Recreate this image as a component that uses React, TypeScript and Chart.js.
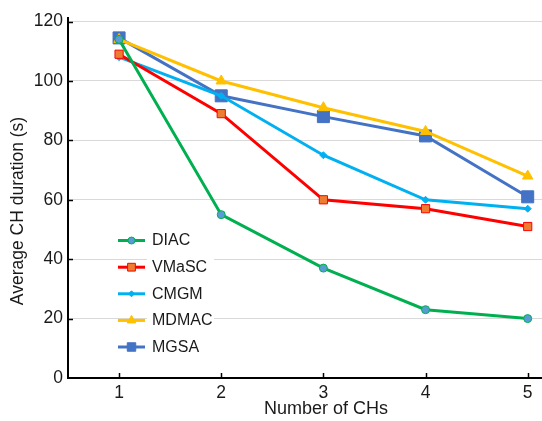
import React, { useEffect, useRef } from "react";
import { Chart, registerables } from "chart.js";

Chart.register(...registerables);

const categories = [1, 2, 3, 4, 5];
const diac = [114, 55, 37, 23, 20];
const vmasc = [109, 89, 60, 57, 51];
const cmgm = [108, 95, 75, 60, 57];
const mdmac = [114, 100, 91, 83, 68];
const mgsa = [114.5, 95, 88, 81.5, 61];
const yTicks = [0, 20, 40, 60, 80, 100, 120];

const FONT = "'Liberation Sans', Arial, sans-serif";
const TEXT = "#1a1a1a";

const toPts = (vals: number[]) => categories.map((c, i) => ({ x: c, y: vals[i] }));

function drawMarker(ctx: CanvasRenderingContext2D, style: string, r: number, x: number, y: number, fill: string, stroke: string) {
  ctx.save();
  ctx.fillStyle = fill;
  ctx.strokeStyle = stroke;
  ctx.lineWidth = 1;
  ctx.beginPath();
  if (style === "circle") {
    ctx.arc(x, y, r, 0, Math.PI * 2);
  } else if (style === "rect") {
    const s = r * Math.SQRT1_2;
    ctx.rect(x - s, y - s, 2 * s, 2 * s);
  } else if (style === "rectRot") {
    ctx.moveTo(x, y - r);
    ctx.lineTo(x + r, y);
    ctx.lineTo(x, y + r);
    ctx.lineTo(x - r, y);
    ctx.closePath();
  } else if (style === "triangle") {
    ctx.moveTo(x, y - r);
    ctx.lineTo(x + r * 0.866, y + r * 0.5);
    ctx.lineTo(x - r * 0.866, y + r * 0.5);
    ctx.closePath();
  }
  ctx.fill();
  ctx.stroke();
  ctx.restore();
}

const decorPlugin = {
  id: "decor",
  afterDraw(chart: any) {
    const { ctx, chartArea, scales } = chart;
    const xs = scales.x;
    const ys = scales.y;
    ctx.save();
    ctx.strokeStyle = "#000";
    ctx.lineWidth = 1.5;
    categories.forEach((c) => {
      const px = Math.round(xs.getPixelForValue(c)) + 0.5;
      ctx.beginPath();
      ctx.moveTo(px, chartArea.bottom);
      ctx.lineTo(px, chartArea.bottom - 5);
      ctx.stroke();
    });
    yTicks.forEach((v) => {
      if (v === 0) return;
      const py = Math.round(ys.getPixelForValue(v)) + 0.5;
      ctx.beginPath();
      ctx.moveTo(chartArea.left, py);
      ctx.lineTo(chartArea.left + 5, py);
      ctx.stroke();
    });
    ctx.fillStyle = TEXT;
    ctx.font = `18px ${FONT}`;
    ctx.textAlign = "center";
    ctx.textBaseline = "middle";
    ctx.fillText("Number of CHs", 326, 409);
    ctx.font = `17.5px ${FONT}`;
    ctx.translate(18, 211);
    ctx.rotate(-Math.PI / 2);
    ctx.fillText("Average CH duration (s)", 0, 0);
    ctx.restore();

    ctx.save();
    ctx.fillStyle = "#ffffff";
    ctx.fillRect(147, 229, 67, 130);
    const rows = [240.5, 267.2, 293.8, 320.4, 347];
    chart.data.datasets.forEach((ds: any, i: number) => {
      const y = rows[i];
      ctx.strokeStyle = ds.borderColor;
      ctx.lineWidth = 3;
      ctx.beginPath();
      ctx.moveTo(118, y);
      ctx.lineTo(145, y);
      ctx.stroke();
      drawMarker(ctx, ds.pointStyle, ds.legendRadius, 131.5, y, ds.pointBackgroundColor, ds.pointBorderColor);
      ctx.fillStyle = TEXT;
      ctx.font = `16px ${FONT}`;
      ctx.textAlign = "left";
      ctx.textBaseline = "middle";
      ctx.fillText(ds.label, 152, y + 0.5);
    });
    ctx.restore();
  },
};

export default function App() {
  const ref = useRef<HTMLCanvasElement | null>(null);
  useEffect(() => {
    if (!ref.current) return;
    const mk = (
      label: string,
      vals: number[],
      color: string,
      fill: string,
      border: string,
      style: string,
      radius: number,
      legendRadius: number
    ) => ({
      label,
      data: toPts(vals),
      borderColor: color,
      backgroundColor: color,
      borderWidth: 3,
      pointStyle: style,
      pointRadius: radius,
      pointHoverRadius: radius,
      pointBackgroundColor: fill,
      pointBorderColor: border,
      pointBorderWidth: 1,
      legendRadius,
      tension: 0,
      clip: false,
    });
    const chart = new Chart(ref.current, {
      type: "line",
      data: {
        datasets: [
          mk("DIAC", diac, "#00B050", "#5B9BD5", "#00B050", "circle", 4, 3.5),
          mk("VMaSC", vmasc, "#FF0000", "#ED7D31", "#FF0000", "rect", 5.8, 5.5),
          mk("CMGM", cmgm, "#00B0F0", "#00B0F0", "#00B0F0", "rectRot", 3.5, 3),
          mk("MDMAC", mdmac, "#FFC000", "#FFC000", "#FFC000", "triangle", 6, 5),
          mk("MGSA", mgsa, "#4472C4", "#4472C4", "#4472C4", "rect", 8.5, 6),
        ] as any,
      },
      options: {
        animation: false,
        responsive: false,
        layout: { autoPadding: false, padding: { top: 18, left: 0, right: 0, bottom: 0 } },
        plugins: { legend: { display: false }, tooltip: { enabled: false } },
        scales: {
          x: {
            type: "linear",
            min: 0.5,
            max: 5.14,
            afterFit: (s: any) => {
              s.height = 43;
            },
            grid: { display: false, drawTicks: false },
            border: { display: true, color: "#000", width: 2 },
            ticks: {
              stepSize: 1,
              includeBounds: false,
              padding: 5,
              color: TEXT,
              font: { family: FONT, size: 17.5 },
            },
          },
          y: {
            type: "linear",
            min: 0,
            max: 121.2,
            afterFit: (s: any) => {
              s.width = 68;
            },
            grid: {
              drawTicks: false,
              color: (c: any) => (c.tick && c.tick.value === 0 ? "rgba(0,0,0,0)" : "#d9d9d9"),
              lineWidth: 1,
            },
            border: { display: true, color: "#000", width: 2 },
            ticks: {
              stepSize: 20,
              includeBounds: false,
              padding: 5,
              color: TEXT,
              font: { family: FONT, size: 17.5 },
            },
          },
        },
      } as any,
      plugins: [decorPlugin],
    });
    return () => chart.destroy();
  }, []);
  return (
    <div style={{ position: "fixed", left: 0, top: 0, width: 542, height: 421, background: "#fff" }}>
      <canvas ref={ref} width={542} height={421} />
    </div>
  );
}
